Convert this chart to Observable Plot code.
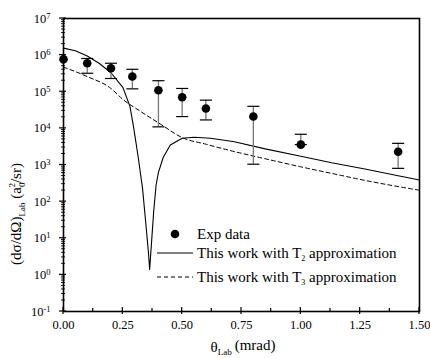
<!DOCTYPE html>
<html>
<head>
<meta charset="utf-8">
<script src="https://cdn.jsdelivr.net/npm/d3@7"></script>
<script src="https://cdn.jsdelivr.net/npm/@observablehq/plot@0.6"></script>
<style>
  html, body { margin: 0; padding: 0; background: #fff; }
  #chart { width: 430px; height: 358px; }
  svg text { font-family: "Liberation Serif", "Times New Roman", serif; }
</style>
</head>
<body>
<div id="chart"></div>
<script>
// ---- Data ----
// Experimental data: angle (mrad), cross section, upper and lower error limits
const expTheta = [0, 0.1, 0.2, 0.29, 0.4, 0.5, 0.6, 0.8, 1.0, 1.41];
const expValue = [7.7e5, 6.0e5, 4.4e5, 2.6e5, 1.1e5, 7.1e4, 3.5e4, 2.1e4, 3.6e3, 2.3e3];
const expHigh  = [7.7e5, 8.1e5, 6.0e5, 4.1e5, 2.0e5, 1.23e5, 5.9e4, 4.0e4, 6.9e3, 3.9e3];
const expLow   = [7.7e5, 3.2e5, 2.3e5, 1.2e5, 1.1e4, 2.1e4, 1.7e4, 1.05e3, 3.6e3, 8.1e2];

// This work with T2 approximation (solid)
const t2Theta = [0, 0.05, 0.1, 0.15, 0.2, 0.25, 0.28, 0.295, 0.315, 0.333, 0.346, 0.358, 0.363,
                 0.37, 0.38, 0.39, 0.40, 0.42, 0.45, 0.5, 0.55, 0.62, 0.72, 0.85, 1.0, 1.13, 1.27, 1.41, 1.5];
const t2Value = [1.55e6, 1.32e6, 9.5e5, 6.0e5, 3.3e5, 1.32e5, 4.0e4, 1.12e4, 1.6e3, 230, 29, 4.0, 1.4,
                 6.3, 54, 280, 630, 1.6e3, 3.5e3, 5.4e3, 5.75e3, 5.4e3, 4.3e3, 2.75e3, 1.74e3, 1.15e3, 780, 510, 390];

// This work with T3 approximation (dashed)
const t3Theta = [0, 0.1, 0.2, 0.25, 0.325, 0.41, 0.5, 0.6, 0.7, 0.85, 1.0, 1.13, 1.27, 1.5];
const t3Value = [4.7e5, 2.6e5, 1.23e5, 6.2e4, 2.9e4, 1.29e4, 5.6e3, 3.7e3, 2.5e3, 1.48e3, 890, 590, 380, 204];

// Tick values
const xTicks = [0, 0.25, 0.5, 0.75, 1.0, 1.25, 1.5];
const xMinorTicks = [0.125, 0.375, 0.625, 0.875, 1.125, 1.375];
const yExponents = [-1, 0, 1, 2, 3, 4, 5, 6, 7];

// ---- Tables built from arrays ----
const expData = expTheta.map((t, i) => ({theta: t, v: expValue[i], hi: expHigh[i], lo: expLow[i]}));
const t2Data = t2Theta.map((t, i) => ({theta: t, v: t2Value[i]}));
const t3Data = t3Theta.map((t, i) => ({theta: t, v: t3Value[i]}));
const yTicks = yExponents.map(e => Math.pow(10, e));
const yMinor = [];
for (let e = -1; e < 7; e++) for (let k = 2; k <= 9; k++) yMinor.push(k * Math.pow(10, e));

const capSymbol = {
  draw(context, size) {
    const r = Math.sqrt(size);
    context.moveTo(-r, 0);
    context.lineTo(r, 0);
  }
};
const errBars = expData.filter(d => d.hi !== d.lo);

const plot = Plot.plot({
  width: 430,
  height: 358,
  marginLeft: 63,
  marginRight: 11,
  marginTop: 18,
  marginBottom: 47,
  x: {domain: [0, 1.5]},
  y: {type: "log", domain: [0.1, 1e7]},
  style: {fontFamily: "'Liberation Serif', serif", background: "transparent", color: "black"},
  marks: [
    Plot.axisX({ticks: xTicks, tickSize: 0, tickPadding: 9, tickFormat: d3.format(".2f"), fontSize: 12.5, label: null}),
    Plot.axisY({ticks: yTicks, tickSize: 0, tickPadding: 13, tickFormat: d => String(Math.round(Math.log10(d))), fontSize: 12.5, label: null}),
    Plot.line(t3Data, {x: "theta", y: "v", stroke: "black", strokeWidth: 1, strokeDasharray: "4,3", curve: "monotone-x"}),
    Plot.line(t2Data, {x: "theta", y: "v", stroke: "black", strokeWidth: 1.1, curve: "linear"}),
    Plot.ruleX(errBars, {x: "theta", y1: "lo", y2: "hi", stroke: "#777", strokeWidth: 1.3}),
    Plot.dot(errBars, {x: "theta", y: "hi", symbol: capSymbol, r: 3.4, stroke: "black", strokeWidth: 1.2, fill: "none"}),
    Plot.dot(errBars, {x: "theta", y: "lo", symbol: capSymbol, r: 3.4, stroke: "black", strokeWidth: 1.2, fill: "none"}),
    Plot.dot(expData, {x: "theta", y: "v", r: 4.3, fill: "black", stroke: "none"}),
    Plot.frame({stroke: "black", strokeWidth: 1.6})
  ]
});

document.getElementById("chart").appendChild(plot);

const svg = d3.select(plot);
const xs = plot.scale("x");
const ys = plot.scale("y");
const frameLeft = 63, frameBottom = 311;

// Ticks positioned through the plot's scales
const tickG = svg.append("g").attr("stroke", "black").attr("stroke-width", 1.2);
xTicks.forEach(t => {
  const px = xs.apply(t);
  tickG.append("line").attr("x1", px).attr("x2", px).attr("y1", frameBottom - 4).attr("y2", frameBottom + 3);
});
xMinorTicks.forEach(t => {
  const px = xs.apply(t);
  tickG.append("line").attr("x1", px).attr("x2", px).attr("y1", frameBottom - 3).attr("y2", frameBottom);
});
yTicks.forEach(t => {
  const py = ys.apply(t);
  tickG.append("line").attr("x1", frameLeft - 4).attr("x2", frameLeft + 3).attr("y1", py).attr("y2", py);
});
yMinor.forEach(t => {
  const py = ys.apply(t);
  tickG.append("line").attr("x1", frameLeft - 2).attr("x2", frameLeft + 2).attr("y1", py).attr("y2", py).attr("stroke-width", 0.9);
});

// Superscript y tick labels: 10^n
svg.selectAll('g[aria-label="y-axis tick label"] text').each(function() {
  const t = d3.select(this);
  const exp = t.text();
  t.text("");
  t.attr("text-anchor", "end");
  t.append("tspan").text("10");
  t.append("tspan").attr("dy", "-0.45em").attr("font-size", "8.5px").text(exp);
});

// Axis titles
const xt = svg.append("text")
  .attr("x", 243).attr("y", 352)
  .attr("text-anchor", "middle").attr("font-size", 15).attr("fill", "black");
xt.append("tspan").text("θ");
xt.append("tspan").attr("dy", "0.3em").attr("font-size", "9px").text("Lab");
xt.append("tspan").attr("dy", "-0.3em").attr("dx", "3").text("(mrad)");

const yt = svg.append("text")
  .attr("transform", "translate(21,214) rotate(-90)")
  .attr("text-anchor", "middle").attr("font-size", 15).attr("fill", "black");
yt.append("tspan").text("(dσ/dΩ)");
yt.append("tspan").attr("dy", "4").attr("font-size", "9px").text("Lab");
yt.append("tspan").attr("dy", "-4").text(" (a");
yt.append("tspan").attr("dy", "4").attr("font-size", "9px").text("0");
yt.append("tspan").attr("dy", "-10").attr("dx", "-5").attr("font-size", "9px").text("2");
yt.append("tspan").attr("dy", "6").text("/sr)");

// Legend
const lg = svg.append("g").attr("font-size", 15).attr("fill", "black").attr("text-anchor", "start");
lg.append("circle").attr("cx", 175).attr("cy", 234).attr("r", 4.3).attr("fill", "black");
lg.append("text").attr("x", 197).attr("y", 234).attr("dy", "0.35em").text("Exp data");
lg.append("line").attr("x1", 157).attr("x2", 193).attr("y1", 253).attr("y2", 253)
  .attr("stroke", "black").attr("stroke-width", 1.1);
const l2 = lg.append("text").attr("x", 197).attr("y", 253).attr("dy", "0.35em");
l2.append("tspan").text("This work with T");
l2.append("tspan").attr("dy", "3").attr("font-size", "8px").text("2");
l2.append("tspan").attr("dy", "-3").text(" approximation");
lg.append("line").attr("x1", 157).attr("x2", 193).attr("y1", 277).attr("y2", 277)
  .attr("stroke", "black").attr("stroke-width", 1).attr("stroke-dasharray", "4,3");
const l3 = lg.append("text").attr("x", 197).attr("y", 277).attr("dy", "0.35em");
l3.append("tspan").text("This work with T");
l3.append("tspan").attr("dy", "3").attr("font-size", "8px").text("3");
l3.append("tspan").attr("dy", "-3").text(" approximation");
</script>
</body>
</html>
